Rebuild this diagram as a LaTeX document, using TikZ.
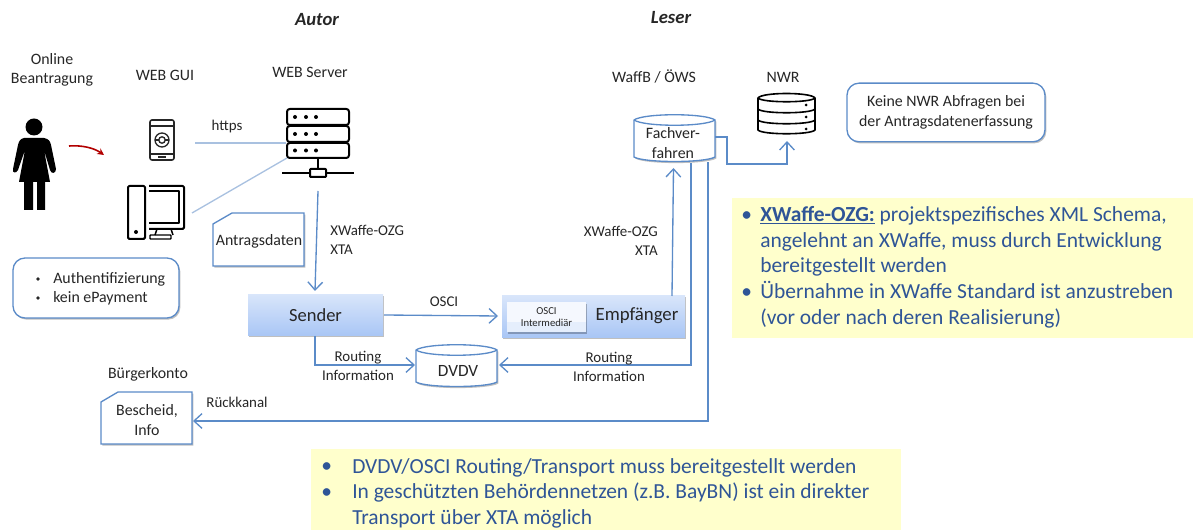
\documentclass[tikz,border=0pt]{standalone}
\usepackage{fontspec}
\setmainfont{Carlito}
\usetikzlibrary{arrows.meta,shadows,calc}
\definecolor{lnblue}{HTML}{5B8BC8}
\definecolor{pale}{HTML}{A9C1E0}
\definecolor{txt}{HTML}{262626}
\definecolor{yel}{HTML}{FFFFCC}
\definecolor{bluet}{HTML}{2F5597}
\definecolor{grad}{HTML}{A9C6F5}
\tikzset{
 x=0.75pt,y=-0.75pt,
 lbl/.style={font=\fontsize{11.9pt}{14.5pt}\selectfont,text=txt,align=center,inner sep=0pt},
 slbl/.style={font=\fontsize{11.2pt}{14pt}\selectfont,text=txt,align=center,inner sep=0pt},
 conn/.style={draw=lnblue,line width=1pt,-{Straight Barb[length=6pt,width=11pt,line width=1pt]}},
 link/.style={draw=pale,line width=1pt},
 icon/.style={draw=black,line width=1.5pt,line join=round},
 softsh/.style={drop shadow={shadow xshift=1pt,shadow yshift=-1.2pt,fill=black,opacity=.25}},
 grbox/.style={minimum height=31pt,inner sep=0pt,top color=grad!45!white,bottom color=grad,draw=none,softsh},
 rbox/.style={draw=lnblue,line width=1pt,rounded corners=9pt,fill=white,softsh,inner sep=0pt},
 card/.style={draw=lnblue,line width=1pt,fill=white,softsh},
 yelbox/.style={fill=yel,draw=none,inner sep=0pt,anchor=north west},
 big/.style={font=\fontsize{16.1pt}{19.3pt}\selectfont,text=bluet,align=left,inner sep=0pt,anchor=north west},
 dot/.style={font=\fontsize{16.1pt}{19.3pt}\selectfont,text=bluet,inner sep=0pt,anchor=base west},
}
\begin{document}
\begin{tikzpicture}
\useasboundingbox (0,0) rectangle (1193,530);
% yellow
\node[yelbox,minimum width=345.75pt,minimum height=105pt] (yr) at (732,198) {};
\node[yelbox,minimum width=442.5pt,minimum height=60.75pt] (yb) at (311,449) {};
% headings
\node[lbl,font=\fontsize{14pt}{16pt}\bfseries\itshape\selectfont] (autor) at (317,20) {Autor};
\node[lbl,font=\fontsize{14pt}{16pt}\bfseries\itshape\selectfont] (leser) at (671,18) {Leser};
\node[lbl] (online) at (52,70) {Online\\Beantragung};
\node[lbl] (webgui) at (165,75) {WEB GUI};
\node[lbl] (websrv) at (310,72) {WEB Server};
\node[lbl] (waffb) at (654,76) {WaffB / ÖWS};
\node[lbl] (nwr) at (783,77) {NWR};
% person
\fill[black] (34,127) circle[radius=8.5];
\fill[black] (24,138) -- (44,138) .. controls (49,139) and (50,141) .. (51,145) -- (56,169) .. controls (56,174) and (51,174) .. (50,170) -- (44,150)
 -- (50,182) -- (45,182) -- (45,210) -- (37,210) -- (37,182) -- (33,182) -- (33,210) -- (24,210) -- (24,182) -- (19,182) -- (25,150) -- (18,170) .. controls (16,174) and (12,173) .. (13,169) -- (18,145) .. controls (19,141) and (20,139) .. (24,138) -- cycle;
% red arrow
\coordinate (ra) at (69,146);
\coordinate (rb) at (104,155);
\draw[draw=red!70!black,line width=1.2pt,-{Stealth[length=5pt,width=5pt]}] (ra) .. controls (82,145) and (94,148) .. (rb);
% phone
\node[minimum width=18pt,minimum height=30pt,inner sep=0pt] (phone) at (162,140) {};
\draw[icon,line width=1.2pt,rounded corners=1.5pt,draw=black!85] (150,120) rectangle (174,160);
\draw[black!85,line width=1pt] (150,126) -- (174,126) (150,154) -- (174,154) (158,157) -- (166,157);
\draw[black!85,line width=1pt] (162,140) circle[radius=7] circle[radius=3.2];
\draw[black!85,line width=.8pt] (155,140) -- (158.8,140) (165.2,140) -- (169,140);
% desktop
\node[minimum width=43pt,minimum height=42pt,inner sep=0pt] (pc) at (156,212) {};
\draw[icon,rounded corners=1pt] (128,186) rectangle (145,239);
\fill (136,232) circle[radius=2];
\draw[icon,rounded corners=1pt] (149,186) -- (184,186) -- (184,229) -- (149,229);
\draw[icon,line width=1pt] (149,191) -- (179,191) -- (179,223) -- (149,223);
\draw[icon,line width=1.1pt] (157,229) -- (155,235) (171,229) -- (173,235);
\draw[icon,line width=1.1pt,rounded corners=.5pt] (150,235) rectangle (171,239);
% server
\node[minimum width=48pt,minimum height=37pt,inner sep=0pt] (srv) at (318,133.5) {};
\foreach \a/\b in {109/125,126/142,143/158}{
 \draw[icon,rounded corners=2pt] (287,\a) rectangle (349,\b);
 \foreach \p in {295,306,316}{\fill (\p,{(\a+\b)/2}) circle[radius=2];}
}
\draw[icon] (318,158) -- (318,169) (282,173) -- (310,173) (326,173) -- (354,173);
\draw[icon,rounded corners=.5pt] (310,169) rectangle (326,177);
\coordinate (srvtop) at (286,143);
\coordinate (srvlow) at (287,158);
\coordinate (srvdown) at (318,191);
\coordinate (phr) at (195,143);
\coordinate (pcr) at (192,213);
\draw[link] (phr) -- (srvtop);
\draw[link] (pcr) -- (srvlow);
\node[slbl] (https) at (227,127) {https};
% Antragsdaten
\draw[card] (213,224) -- (232,213) -- (304,213) -- (304,266) -- (213,266) -- cycle;
\node[lbl] (antr) at (259,241) {Antragsdaten};
% Bescheid
\draw[card] (101,402) -- (118,392) -- (192,392) -- (192,444) -- (101,444) -- cycle;
\node[lbl] (besch) at (147,420) {Bescheid,\\Info};
\node[lbl] (bk) at (148,374) {Bürgerkonto};
% Sender / Empfaenger
\node[grbox,minimum width=101.25pt] (sender) at (315.5,315) {};
\node[lbl,font=\fontsize{13.9pt}{16pt}\selectfont] at (sender) {Sender};
\node[grbox,minimum width=137.25pt] (empf) at (593.5,316.5) {};
\node[minimum width=59.25pt,minimum height=22.5pt,inner sep=0pt,softsh,fill=white!88!grad,draw=none] (osci) at (546.5,317) {};
\fill[grad!30!white] (507,322) rectangle (586,332);
\node[lbl,font=\fontsize{8pt}{9.6pt}\selectfont] (ointer) at (546.5,317) {OSCI\\Intermediär};
\node[lbl,font=\fontsize{14.1pt}{16pt}\selectfont] (empft) at (637,316) {Empfänger};
% cylinders
\newcommand{\cyl}[5]{% name x1 x2 y1 y2
 \draw[draw=lnblue,line width=1pt,fill=white,softsh] (#2,#4) -- (#2,#5) .. controls (#2+10,#5+6) and (#3-10,#5+6) .. (#3,#5) -- (#3,#4)
   .. controls (#3-10,#4-7) and (#2+10,#4-7) .. (#2,#4) -- cycle;
 \draw[draw=lnblue,line width=1pt] (#2,#4) .. controls (#2+10,#4+7) and (#3-10,#4+7) .. (#3,#4);
 \node[minimum width={(#3-#2)*0.75pt},minimum height={(#5-#4)*0.75pt},inner sep=0pt] (#1) at ({(#2+#3)/2},{(#4+#5)/2}) {};
}
\cyl{dvdv}{416}{497}{350}{382}
\node[lbl,font=\fontsize{12.9pt}{15pt}\selectfont] (dvdvt) at (458,371) {DVDV};
\cyl{fach}{634}{715}{120}{157}
\node[lbl] (facht) at (673,143) {Fachver-\\fahren};
% NWR icon
\node[minimum width=42pt,minimum height=30pt,inner sep=0pt] (nwri) at (786.5,114) {};
\draw[icon,line width=1.2pt] (758,98) .. controls (762,92) and (811,92) .. (815,98) -- (815,130) .. controls (811,135) and (762,135) .. (758,130) -- cycle;
\draw[icon,line width=1.2pt] (758,98) .. controls (762,103) and (811,103) .. (815,98);
\draw[icon,line width=1.2pt] (758,109) .. controls (762,114) and (811,114) .. (815,109);
\draw[icon,line width=1.2pt] (758,120) .. controls (762,125) and (811,125) .. (815,120);
\fill (806,105) circle[radius=1.5] (806,117) circle[radius=1.5] (806,129) circle[radius=1.5];
% rounded boxes
\node[rbox,minimum width=148.5pt,minimum height=44pt,lbl,text=txt] (keine) at (946,112.5) {Keine NWR Abfragen bei\\der Antragsdatenerfassung};
\node[rbox,minimum width=124.5pt,minimum height=45pt] (auth) at (96,288) {};
\node[lbl,align=left,anchor=west] (a1) at (53,279) {Authentifizierung};
\node[lbl,align=left,anchor=west] (a2) at (53,298) {kein ePayment};
\fill[txt] (38,279) circle[radius=1.9] (38,298) circle[radius=1.9];
% connectors
\coordinate (sIn) at (315,291);
\draw[conn] (srvdown) -- (sIn);
\coordinate (sR) at (384,315);
\coordinate (eL) at (498,316);
\draw[conn] (sR) -- (eL);
\coordinate (sB) at (315,336);
\coordinate (dL) at (415,365);
\draw[conn] (sB) |- (dL);
\coordinate (fB1) at (691,163);
\coordinate (dR) at (499,365);
\draw[conn] (fB1) |- (dR);
\coordinate (fB2) at (708,162);
\coordinate (bR) at (193,421);
\draw[conn] (fB2) |- (bR);
\coordinate (eT) at (672,296);
\coordinate (fB0) at (673.5,168);
\draw[conn] (eT) -- (fB0);
\coordinate (fR) at (715,137);
\coordinate (nB) at (787,141);
\draw[conn] (fR) -- (727,137) -- (727,164) -- (787,164) -- (nB);
% labels
\node[slbl,align=left,anchor=west] (xw1) at (330,240) {XWaffe-OZG\\XTA};
\node[slbl,align=right,anchor=east] (xw2) at (658,241) {XWaffe-OZG\\XTA};
\node[slbl] (osl) at (444,302) {OSCI};
\node[slbl] (ri1) at (358,366) {Routing\\Information};
\node[slbl] (ri2) at (609,367) {Routing\\Information};
\node[slbl] (rk) at (237,402) {Rückkanal};
% yellow text
\node[big] (y1) at (760,206) {\textbf{\underline{XWaffe-OZG:}} projektspezifisches XML Schema,\\angelehnt an XWaffe, muss durch Entwicklung\\bereitgestellt werden\\Übernahme in XWaffe Standard ist anzustreben\\(vor oder nach deren Realisierung)};
\node[dot] (yd1) at (741,222) {•};
\node[dot] (yd2) at (741,299) {•};
\node[big] (y2) at (352,458) {DVDV/OSCI Routing/Transport muss bereitgestellt werden\\In geschützten Behördennetzen (z.B. BayBN) ist ein direkter\\Transport über XTA möglich};
\node[dot] (yd3) at (321,473) {•};
\node[dot] (yd4) at (321,499) {•};
\end{tikzpicture}
\end{document}
